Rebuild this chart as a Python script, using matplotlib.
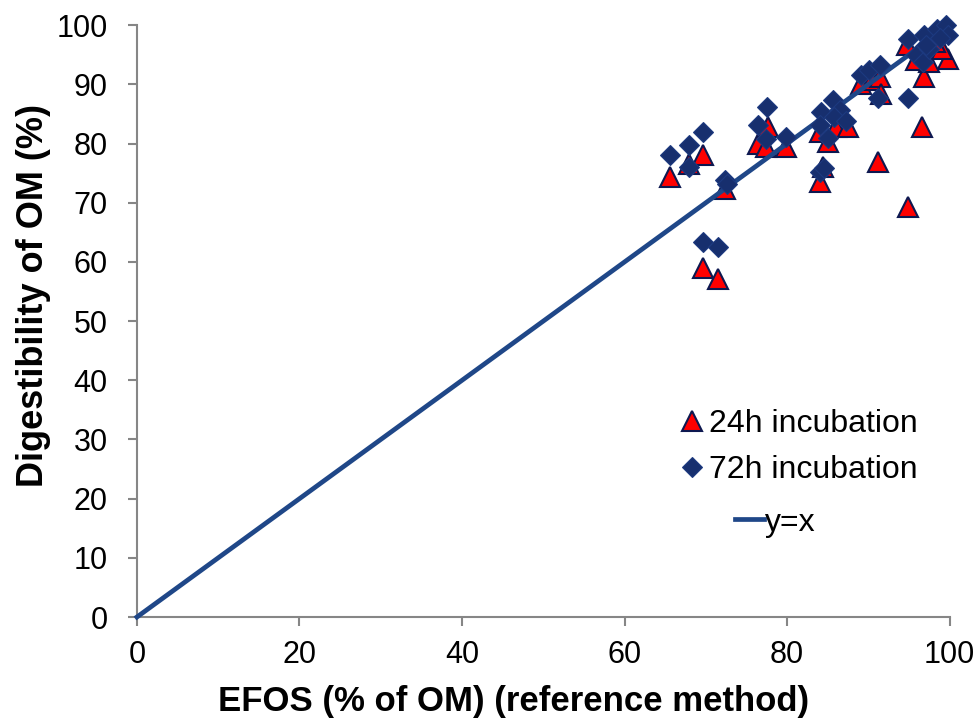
import matplotlib.pyplot as plt
import numpy as np

plt.rcParams['font.family'] = ['Liberation Sans', 'DejaVu Sans']

# 24h incubation (triangles)
x24 = [65.6, 67.9, 69.7, 72.4, 69.7, 71.5, 76.4, 77.6, 77.4, 79.9,
       84.0, 86.0, 87.5, 85.0, 84.0, 84.4, 89.1, 90.4, 91.4, 91.6,
       91.2, 94.9, 96.6, 96.9, 99.8, 94.7, 95.9, 97.5, 99.0, 98.2]
y24 = [74.4, 76.6, 78.0, 72.4, 58.9, 57.2, 80.0, 82.8, 79.4, 79.4,
       82.0, 82.8, 82.8, 80.2, 73.5, 76.1, 90.1, 90.7, 91.3, 88.4,
       76.9, 69.3, 82.8, 91.3, 94.3, 96.6, 94.1, 93.8, 96.0, 97.2]

# 72h incubation (diamonds)
x72 = [65.6, 67.9, 69.7, 67.9, 72.3, 72.6, 69.7, 71.5, 77.5, 76.4,
       77.4, 79.9, 85.6, 84.2, 86.5, 85.8, 87.3, 84.0, 85.0, 84.0,
       84.6, 89.1, 90.1, 91.4, 91.2, 94.9, 94.9, 96.9, 95.9, 96.7,
       97.5, 98.4, 99.6, 99.8, 98.8, 97.1]
y72 = [78.1, 79.8, 81.9, 76.1, 73.8, 73.1, 63.4, 62.6, 86.2, 83.1,
       80.8, 81.1, 87.3, 85.4, 85.6, 84.5, 83.8, 83.1, 81.0, 75.2,
       75.8, 91.6, 92.4, 93.2, 87.7, 87.7, 97.7, 98.3, 94.9, 93.8,
       96.0, 99.4, 100.0, 98.3, 97.8, 96.6]

line_x = [0, 100]

fig = plt.figure(figsize=(9.78, 7.2), dpi=100)
ax = fig.add_axes([0.14, 0.143, 0.831, 0.822])

p24, = ax.plot(x24, y24, linestyle='none', marker='^', markersize=14,
               markerfacecolor='#ff0000', markeredgecolor='#0d1850',
               markeredgewidth=1.5, label='24h incubation', zorder=2,
               clip_on=False)
pline, = ax.plot(line_x, line_x, color='#1f4788', linewidth=3.4, label='y=x',
                 zorder=3, clip_on=False)
p72, = ax.plot(x72, y72, linestyle='none', marker='D', markersize=10,
               markerfacecolor='#172f6e', markeredgecolor='#1d3a80',
               markeredgewidth=0.8, label='72h incubation', zorder=4,
               clip_on=False)

ax.set_xlim(0, 100)
ax.set_ylim(0, 100)
ax.set_xticks(np.arange(0, 101, 20))
ax.set_yticks(np.arange(0, 101, 10))

for s in ['top', 'right']:
    ax.spines[s].set_visible(False)
for s in ['left', 'bottom']:
    ax.spines[s].set_color('#868686')
    ax.spines[s].set_linewidth(1.5)
ax.tick_params(direction='out', length=6.5, width=1.5, color='#868686',
               labelsize=22, labelcolor='black')
ax.tick_params(axis='y', pad=14.5)
ax.tick_params(axis='x', pad=10)

ax.set_xlabel('EFOS (% of OM) (reference method)', fontsize=25,
              fontweight='bold')
ax.set_ylabel('Digestibility of OM (%)', fontsize=26, fontweight='bold')
ax.xaxis.set_label_coords(0.463, -0.115)
ax.yaxis.set_label_coords(-0.106, 0.544)

# legend: markers first, y=x line separately (offset like the original)
leg1 = ax.legend([p24, p72], ['24h incubation', '72h incubation'],
                 frameon=False, fontsize=23, loc='upper left',
                 bbox_to_anchor=(0.667, 0.352), borderaxespad=0, borderpad=0,
                 handlelength=0.8, handletextpad=0.15, labelspacing=0.5)
ax.add_artist(leg1)
ax.legend([pline], ['y=x'], frameon=False, fontsize=23, loc='upper left',
          bbox_to_anchor=(0.736, 0.185), borderaxespad=0, borderpad=0,
          handlelength=0.9, handletextpad=0.05)

fig.savefig('out.png', dpi=100)
